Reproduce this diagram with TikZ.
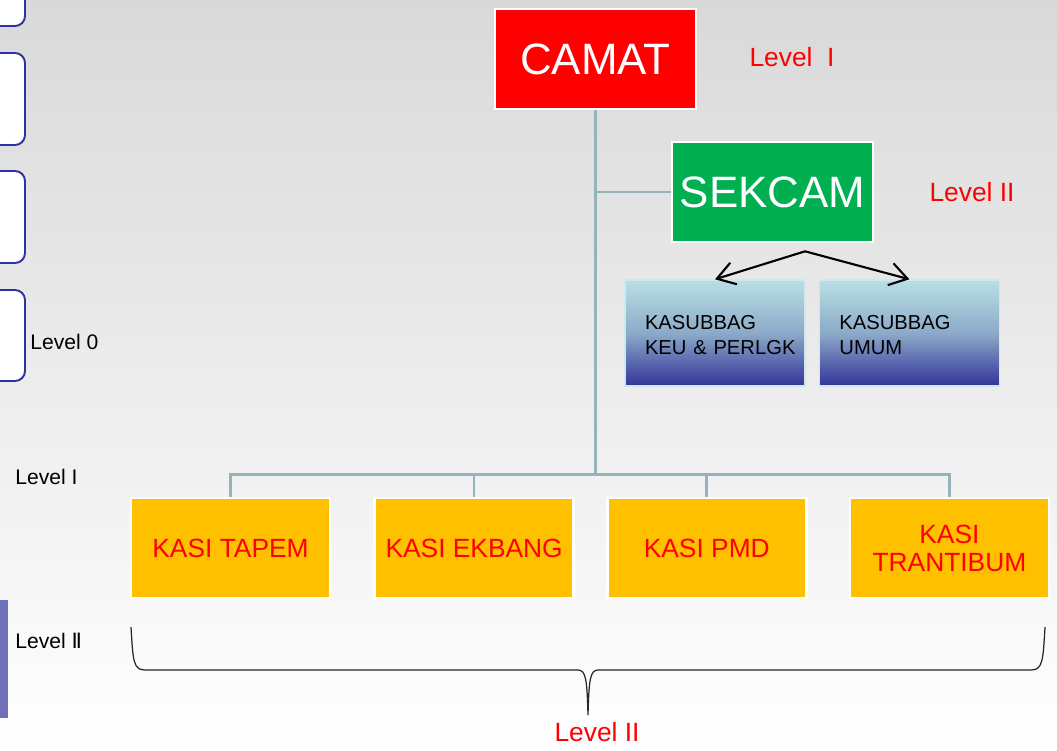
\documentclass[tikz,border=0pt]{standalone}
\usepackage{fontspec}
\setmainfont{Liberation Sans}
\newfontfamily\numfont{DejaVu Sans}
\usetikzlibrary{arrows.meta, positioning, calc}
\definecolor{cred}{RGB}{255,0,0}
\definecolor{cgreen}{RGB}{0,176,80}
\definecolor{corange}{RGB}{255,192,0}
\definecolor{cline}{RGB}{148,180,186}
\definecolor{cnavy}{RGB}{51,51,153}
\definecolor{caqua}{RGB}{184,224,228}
\definecolor{cmist}{RGB}{140,170,200}
\definecolor{cframe}{RGB}{48,48,160}
\definecolor{cbar}{RGB}{112,112,184}

\begin{document}
\begin{tikzpicture}[
    node distance=0.26cm,
    topbox/.style={fill=cred, draw=white, line width=1.5pt, minimum width=4.02cm, minimum height=2cm, text=white, font=\fontsize{25}{28}\selectfont},
    secbox/.style={topbox, fill=cgreen},
    subbox/.style={top color=caqua, bottom color=cnavy, middle color=cmist, draw=caqua!70!white, line width=0.8pt, minimum height=2.12cm, text width=2.8cm, text height=10.5pt, inner xsep=0.4cm, align=left, font=\fontsize{11.5}{14.5}\selectfont},
    kasibox/.style={fill=corange, draw=white, line width=1.5pt, minimum width=3.98cm, minimum height=2cm, text=cred, align=center, font=\fontsize{15}{16}\selectfont},
    orgline/.style={draw=cline, line width=1.5pt},
    subarrow/.style={-{Straight Barb[length=0.35cm,width=0.45cm]}, line width=1.2pt, black},
    lvl/.style={text=cred, font=\fontsize{15}{17}\selectfont},
    sidelvl/.style={anchor=west, inner xsep=0pt, font=\fontsize{12}{14}\selectfont},
    sidebox/.style={draw=cframe, fill=white, line width=1.1pt, rounded corners=0.2cm}
]
\useasboundingbox (0,0) rectangle (21.14,-15.02);
\clip (0,0) rectangle (21.14,-15.02);
\shade[top color=black!15, bottom color=white] (0,0) rectangle (21.14,-15.02);

\draw[sidebox] (-1,1) rectangle (0.5,-0.52);
\draw[sidebox] (-1,-1.06) rectangle (0.5,-2.9);
\draw[sidebox] (-1,-3.42) rectangle (0.5,-5.26);
\draw[sidebox] (-1,-5.8) rectangle (0.5,-7.62);
\fill[cbar] (0,-12) rectangle (0.16,-14.36);

\node[topbox] (camat) at (11.91,-1.18) {CAMAT};
\node[secbox] (sekcam) at (15.45,-3.84) {SEKCAM};
\node[subbox] (keu) at (14.3,-6.66) {KASUBBAG\\\mbox{KEU \& PERLGK}};
\node[subbox, right=of keu] (umum) {KASUBBAG\\UMUM};
\node[kasibox] (tapem) at (4.61,-10.96) {KASI TAPEM};
\node[kasibox, right=0.84cm of tapem] (ekbang) {KASI EKBANG};
\node[kasibox, right=0.62cm of ekbang] (pmd) {KASI PMD};
\node[kasibox, right=0.82cm of pmd] (trantibum) {KASI\\TRANTIBUM};

\node[lvl] (lvlcamat) at (15.84,-1.14) {Level\ \ I};
\node[lvl] (lvlsekcam) at (19.44,-3.84) {Level II};
\node[lvl] (lvlkasi) at (11.94,-14.64) {Level II};
\node[sidelvl] (lvlzero) at (0.6,-6.84) {Level 0};
\node[sidelvl] (lvlone) at (0.3,-9.54) {Level I};
\node[sidelvl] (lvltwo) at (0.3,-12.82) {Level {\numfont Ⅱ}};

\coordinate (bus) at ($(tapem.north -| camat.south)+(0,0.44)$);
\draw[orgline] (camat.south) -- (bus);
\draw[orgline] (tapem.north) |- (bus) -| (trantibum.north);
\draw[orgline] (ekbang.north) -- (ekbang.north |- bus);
\draw[orgline] (pmd.north) -- (pmd.north |- bus);
\draw[orgline] (sekcam.west) -- (sekcam.west -| camat.south);

\coordinate (fork) at ($(sekcam.south)+(0.65,-0.16)$);
\draw[subarrow] (fork) -- (keu.north);
\draw[subarrow] (fork) -- (umum.north);

\draw[black!85, line width=0.7pt] (2.62,-12.54) .. controls (2.66,-13.2) and (2.66,-13.4) .. (2.9,-13.4) -- (11.56,-13.4) .. controls (11.72,-13.4) and (11.74,-13.6) .. (11.76,-14.3) .. controls (11.78,-13.6) and (11.8,-13.4) .. (11.96,-13.4) -- (20.62,-13.4) .. controls (20.86,-13.4) and (20.86,-13.2) .. (20.9,-12.54);
\end{tikzpicture}
\end{document}
